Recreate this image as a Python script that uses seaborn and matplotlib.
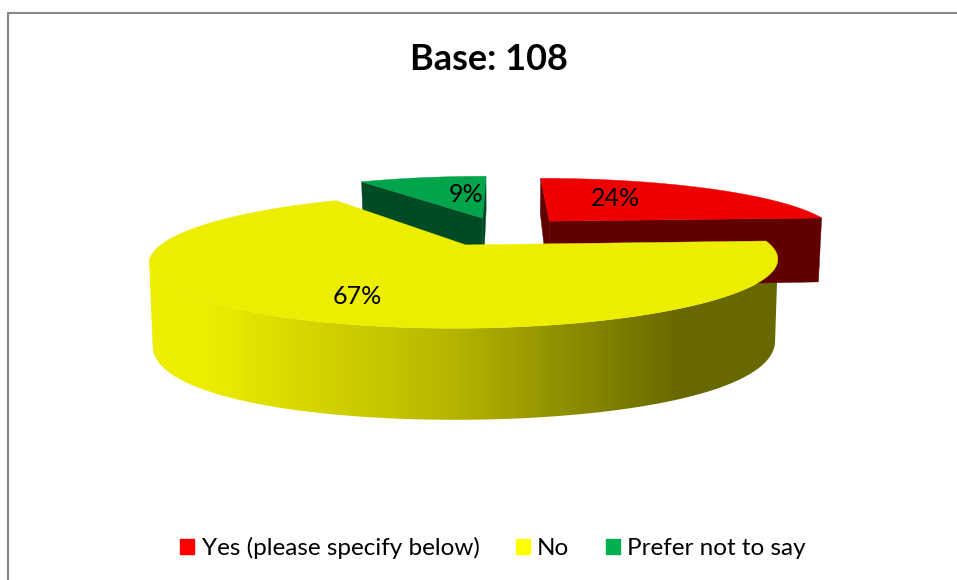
"""Exploded 3D-look pie chart, drawn on a full-figure axes in pixel coordinates."""

import matplotlib
matplotlib.use("Agg")

import matplotlib.pyplot as plt
from matplotlib.patches import Patch, Polygon
import numpy as np
import seaborn as sns

# --- data ---
categories = ["Yes (please specify below)", "No", "Prefer not to say"]
shares = [24, 67, 9]
title_text = "Base: 108"

# --- colours ---
legend_colors = ["#FF0000", "#FFFF00", "#00B050"]
top_colors = ["#EE0000", "#EDED00", "#00A44A"]
wall_colors = ["#610000", "#6B6B00", "#004A25"]
wall_ramp = sns.blend_palette(["#EDED00", "#B8B800", "#686800"], as_cmap=True)

# --- layout (pixels, origin top left) ---
W, H = 957, 580
CX, CY, A, B, K = 501, 231.3, 289, 56.8, 0.229  # top plane of the pie
LOW_CY, LOW_B, LOW_K, LOW_SX = 302.3, 84, 0.1, 0.99  # bottom plane
EXPLODE = 0.255
nudge_x = [0, 0, 1]
label_xy = [(615, 198), (357, 296), (466, 194)]


def top_xy(x, y):
    w = 1 + K * y
    return CX + A * x / w, CY - B * y / w


def low_xy(x, y):
    return (CX + LOW_SX * A * x / (1 + K * y),
            LOW_CY - LOW_B * y / (1 + LOW_K * y))


def slice_geometry(start, end, nudge):
    """Outer arc and centre of one slice, on both planes."""
    mid = np.radians((start + end) / 2)
    ox, oy = EXPLODE * np.sin(mid), EXPLODE * np.cos(mid)
    t = np.radians(np.linspace(start, end, 240))
    ax_, ay_ = ox + np.sin(t), oy + np.cos(t)
    shift = np.array([nudge, 0])
    return {
        "top": np.column_stack(top_xy(ax_, ay_)) + shift,
        "low": np.column_stack(low_xy(ax_, ay_)) + shift,
        "top_c": np.array(top_xy(ox, oy)) + shift,
        "low_c": np.array(low_xy(ox, oy)) + shift,
    }


sns.set_theme(style="white")
plt.rcParams["font.family"] = ["Lato", "DejaVu Sans"]

fig = plt.figure(figsize=(W / 100, H / 100), dpi=100)
ax = fig.add_axes([0, 0, 1, 1])

# chart frame: only left and top survive in the crop
ax.plot([8, 8, W], [H, 13, 13], color="#868686", lw=1.5, solid_joinstyle="miter")

# angles run clockwise from the top, red first
stops = np.cumsum([0] + shares) * 3.6
parts = [slice_geometry(stops[i], stops[i + 1], nudge_x[i]) for i in range(3)]
red, yellow, green = parts

# green and red sit behind yellow: cut faces first, then the top face
for i in (2, 0):
    p = parts[i]
    for j in (0, -1):
        face = [p["top_c"], p["top"][j], p["low"][j], p["low_c"]]
        ax.add_patch(Polygon(face, closed=True, fc=wall_colors[i], ec=wall_colors[i], lw=0.3))
    ax.add_patch(Polygon(np.vstack([p["top_c"], p["top"]]), closed=True,
                         fc=top_colors[i], ec=top_colors[i], lw=0.3))

# yellow outer wall between its right and left silhouette, shaded left to right
i0, i1 = np.argmax(yellow["top"][:, 0]), np.argmin(yellow["top"][:, 0])
wall = np.vstack([yellow["top"][i0:i1 + 1], yellow["low"][i0:i1 + 1][::-1]])
im = ax.imshow(np.arange(W)[None, :], extent=(0, W, H, 0), aspect="auto",
               cmap=wall_ramp, vmin=205, vmax=680)
im.set_clip_path(Polygon(wall, closed=True, transform=ax.transData))

ax.add_patch(Polygon(np.vstack([yellow["top_c"], yellow["top"]]), closed=True,
                     fc=top_colors[1], ec=top_colors[1], lw=0.3))

for share, (x, y) in zip(shares, label_xy):
    ax.text(x, y, f"{share}%", ha="center", va="center", fontsize=18, color="black")

ax.text(489, 60, title_text, ha="center", va="center", fontsize=26,
        fontweight="bold", color="black")

handles = [Patch(color=c, label=n) for c, n in zip(legend_colors, categories)]
ax.legend(handles=handles, ncol=3, frameon=False, fontsize=17.5,
          loc="center", bbox_to_anchor=(493 / W, 1 - 548 / H),
          handlelength=0.57, handleheight=0.57, handletextpad=0.3,
          columnspacing=1.5, borderpad=0, labelcolor="black")

ax.set_xlim(0, W)
ax.set_ylim(H, 0)
ax.axis("off")

fig.savefig("out.png", dpi=100, facecolor="white")
plt.close(fig)
